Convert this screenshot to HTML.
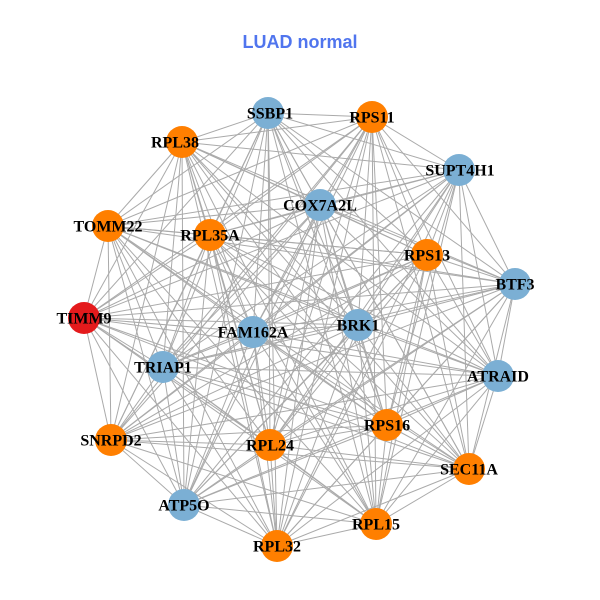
<!DOCTYPE html>
<html><head><meta charset="utf-8"><style>
html,body{margin:0;padding:0;background:#fff;}
svg{display:block;}
text.l{font-family:"Liberation Serif",serif;font-weight:bold;font-size:16px;fill:#000;text-anchor:middle;dominant-baseline:central;}
</style></head><body>
<svg id="s" width="600" height="600" viewBox="0 0 600 600">
<text x="300" y="48" text-anchor="middle" font-family="Liberation Sans, sans-serif" font-weight="bold" font-size="18" fill="#5075EE">LUAD normal</text>
<g id="edges" stroke="#aaaaaa" stroke-width="1"></g>
<g id="nodes">
<circle cx="268" cy="113" r="16" fill="#7BAFD4"/>
<circle cx="372" cy="117" r="16" fill="#FF7F00"/>
<circle cx="182" cy="142" r="16" fill="#FF7F00"/>
<circle cx="459" cy="170" r="16" fill="#7BAFD4"/>
<circle cx="320" cy="205" r="16" fill="#7BAFD4"/>
<circle cx="108" cy="226" r="16" fill="#FF7F00"/>
<circle cx="210" cy="235" r="16" fill="#FF7F00"/>
<circle cx="427" cy="255" r="16" fill="#FF7F00"/>
<circle cx="515" cy="284" r="16" fill="#7BAFD4"/>
<circle cx="84" cy="318" r="16" fill="#E41A1C"/>
<circle cx="253" cy="332" r="16" fill="#7BAFD4"/>
<circle cx="358" cy="325" r="16" fill="#7BAFD4"/>
<circle cx="163" cy="367" r="16" fill="#7BAFD4"/>
<circle cx="498" cy="376" r="16" fill="#7BAFD4"/>
<circle cx="111" cy="440" r="16" fill="#FF7F00"/>
<circle cx="270" cy="445" r="16" fill="#FF7F00"/>
<circle cx="387" cy="425" r="16" fill="#FF7F00"/>
<circle cx="469" cy="469" r="16" fill="#FF7F00"/>
<circle cx="184" cy="505" r="16" fill="#7BAFD4"/>
<circle cx="376" cy="524" r="16" fill="#FF7F00"/>
<circle cx="277" cy="546" r="16" fill="#FF7F00"/>
</g>
<g>
<text class="l" x="270" y="114">SSBP1</text>
<text class="l" x="372" y="118">RPS11</text>
<text class="l" x="175" y="143">RPL38</text>
<text class="l" x="460" y="171">SUPT4H1</text>
<text class="l" x="320" y="206">COX7A2L</text>
<text class="l" x="108" y="227">TOMM22</text>
<text class="l" x="210" y="236">RPL35A</text>
<text class="l" x="427" y="256">RPS13</text>
<text class="l" x="515" y="285">BTF3</text>
<text class="l" x="84" y="319">TIMM9</text>
<text class="l" x="253" y="333">FAM162A</text>
<text class="l" x="358" y="326">BRK1</text>
<text class="l" x="163" y="368">TRIAP1</text>
<text class="l" x="498" y="377">ATRAID</text>
<text class="l" x="111" y="441">SNRPD2</text>
<text class="l" x="270" y="446">RPL24</text>
<text class="l" x="387" y="426">RPS16</text>
<text class="l" x="469" y="470">SEC11A</text>
<text class="l" x="184" y="506">ATP5O</text>
<text class="l" x="376" y="525">RPL15</text>
<text class="l" x="277" y="547">RPL32</text>
</g>
</svg>
<script>
var c=document.querySelectorAll('#nodes circle'),g=document.getElementById('edges'),ns='http://www.w3.org/2000/svg';
for(var i=0;i<c.length;i++)for(var j=i+1;j<c.length;j++){
 var l=document.createElementNS(ns,'line');
 l.setAttribute('x1',c[i].getAttribute('cx'));l.setAttribute('y1',c[i].getAttribute('cy'));
 l.setAttribute('x2',c[j].getAttribute('cx'));l.setAttribute('y2',c[j].getAttribute('cy'));
 g.appendChild(l);}
</script>
</body></html>
